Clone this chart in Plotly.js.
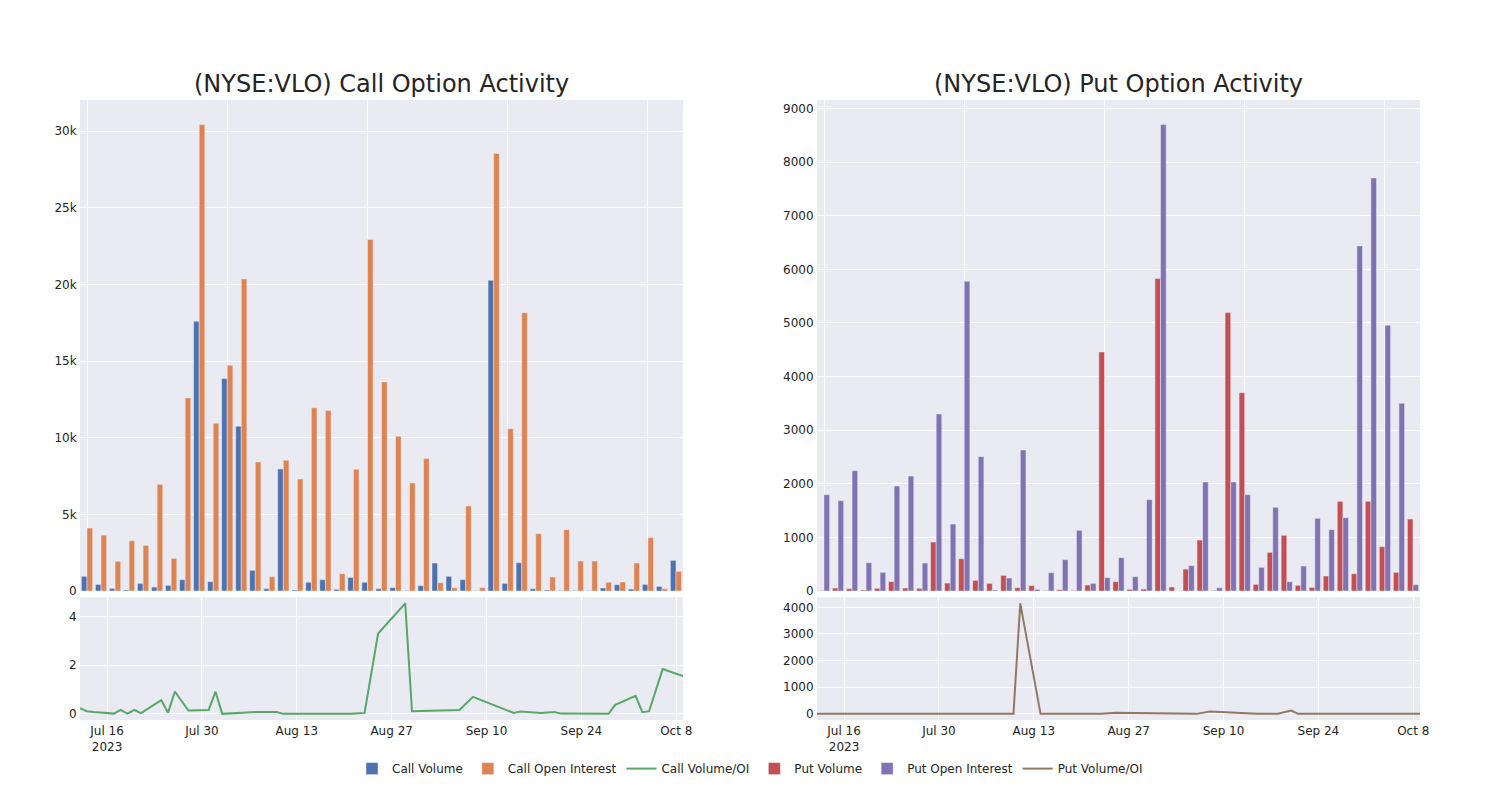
<!DOCTYPE html>
<html>
<head>
<meta charset="utf-8">
<script src="https://cdn.plot.ly/plotly-3.0.1.min.js"></script>
<style>html,body{margin:0;padding:0;background:#fff;}#chart{width:1500px;height:800px;}</style>
</head>
<body>
<div id="chart"></div>
<script>
const dates = ["2023-07-12","2023-07-13","2023-07-14","2023-07-17","2023-07-18","2023-07-19","2023-07-20","2023-07-21","2023-07-24","2023-07-25","2023-07-26","2023-07-27","2023-07-28","2023-07-31","2023-08-01","2023-08-02","2023-08-03","2023-08-07","2023-08-09","2023-08-10","2023-08-11","2023-08-14","2023-08-17","2023-08-21","2023-08-23","2023-08-25","2023-08-29","2023-08-30","2023-09-06","2023-09-08","2023-09-14","2023-09-15","2023-09-18","2023-09-20","2023-09-21","2023-09-25","2023-09-28","2023-09-29","2023-10-02","2023-10-03","2023-10-04","2023-10-06","2023-10-09"];

const callVolume = [960,430,170,70,500,260,370,740,17600,610,13860,10750,1350,150,7960,70,570,740,110,890,570,150,220,40,350,1830,960,740,20,20270,500,1850,150,70,40,40,20,200,410,130,430,300,2000];
const callOpenInterest = [4110,3650,1940,3280,2980,6960,2130,12600,30430,10940,14730,20360,8420,940,8530,7310,11960,11770,1130,7940,22930,13640,10090,7050,8640,540,210,5550,220,28540,10590,18160,3740,910,4000,1960,1960,570,590,1830,3480,150,1280];
const callVolOI = [0.23,0.11,0.08,0.01,0.16,0.01,0.16,0.03,0.56,0.05,0.92,0.53,0.14,0.16,0.91,0.0,0.02,0.08,0.08,0.08,0.0,0.0,0.0,0.0,0.04,3.3,4.54,0.11,0.16,0.70,0.04,0.10,0.04,0.08,0.01,0.01,0.0,0.37,0.74,0.07,0.11,1.84,1.55];

const putVolume = [5,56,44,19,50,174,56,50,914,149,603,199,143,292,62,100,6,25,12,112,4459,174,31,37,5827,75,410,951,12,5193,3700,124,721,1039,106,68,280,1673,323,1673,827,348,1343];
const putOpenInterest = [1797,1685,2245,529,348,1959,2145,522,3302,1250,5777,2506,19,243,2631,31,342,585,1132,143,249,622,267,1704,8700,0,473,2034,62,2034,1797,442,1561,174,466,1356,1144,1368,6437,7705,4956,3501,118];
const putVolOI = [0,0,0,0,0,0,0,0,0,0,0,0,0,0,0,0,0,0,0,0,4150,0,0,0,5,40,25,15,0,90,15,5,5,125,0,0,0,0,0,0,0,0,0];

const titles = ["(NYSE:VLO) Call Option Activity", "(NYSE:VLO) Put Option Activity"];
const names = ["Call Volume","Call Open Interest","Call Volume/OI","Put Volume","Put Open Interest","Put Volume/OI"];
const colors = ["rgb(76,114,176)","rgb(221,132,82)","rgb(85,168,104)","rgb(196,78,82)","rgb(129,114,179)","rgb(147,120,96)"];

const barLine = {color: "rgb(234,234,242)", width: 0.5};

const traces = [
  {type:"bar", name:names[0], x:dates, y:callVolume, xaxis:"x", yaxis:"y", marker:{color:colors[0], line:barLine}},
  {type:"bar", name:names[1], x:dates, y:callOpenInterest, xaxis:"x", yaxis:"y", marker:{color:colors[1], line:barLine}},
  {type:"scatter", mode:"lines", name:names[2], x:dates, y:callVolOI, xaxis:"x3", yaxis:"y3", line:{color:colors[2], width:2}},
  {type:"bar", name:names[3], x:dates, y:putVolume, xaxis:"x2", yaxis:"y2", marker:{color:colors[3], line:barLine}},
  {type:"bar", name:names[4], x:dates, y:putOpenInterest, xaxis:"x2", yaxis:"y2", marker:{color:colors[4], line:barLine}},
  {type:"scatter", mode:"lines", name:names[5], x:dates, y:putVolOI, xaxis:"x4", yaxis:"y4", line:{color:colors[5], width:2}}
];

const axBase = {gridcolor:"white", linecolor:"white", zerolinecolor:"white", showgrid:true, ticks:"", automargin:true};
const topDom = [0.208, 1];
const botDom = [0, 0.198];

const layout = {
  width:1500, height:800,
  margin:{l:80, r:80, t:100, b:80},
  paper_bgcolor:"white",
  plot_bgcolor:"rgb(234,234,242)",
  font:{family:"DejaVu Sans", color:"rgb(36,36,36)", size:12},
  barmode:"group",
  showlegend:true,
  legend:{orientation:"h", x:0.5, xanchor:"center", y:-0.055, yanchor:"top"},
  xaxis: Object.assign({}, axBase, {domain:[0,0.45], anchor:"y", type:"category", showticklabels:false, tickmode:"linear", tick0:0, dtick:10}),
  yaxis: Object.assign({}, axBase, {domain:topDom, anchor:"x"}),
  xaxis2: Object.assign({}, axBase, {domain:[0.55,1], anchor:"y2", type:"category", showticklabels:false, tickmode:"linear", tick0:0, dtick:10}),
  yaxis2: Object.assign({}, axBase, {domain:topDom, anchor:"x2"}),
  xaxis3: Object.assign({}, axBase, {domain:[0,0.45], anchor:"y3", type:"date"}),
  yaxis3: Object.assign({}, axBase, {domain:botDom, anchor:"x3"}),
  xaxis4: Object.assign({}, axBase, {domain:[0.55,1], anchor:"y4", type:"date"}),
  yaxis4: Object.assign({}, axBase, {domain:botDom, anchor:"x4"}),
  annotations:[
    {text:titles[0], x:0.225, y:1, xref:"paper", yref:"paper", xanchor:"center", yanchor:"bottom", showarrow:false, font:{size:24}},
    {text:titles[1], x:0.775, y:1, xref:"paper", yref:"paper", xanchor:"center", yanchor:"bottom", showarrow:false, font:{size:24}}
  ]
};

Plotly.newPlot("chart", traces, layout, {displayModeBar:false});
</script>
</body>
</html>
